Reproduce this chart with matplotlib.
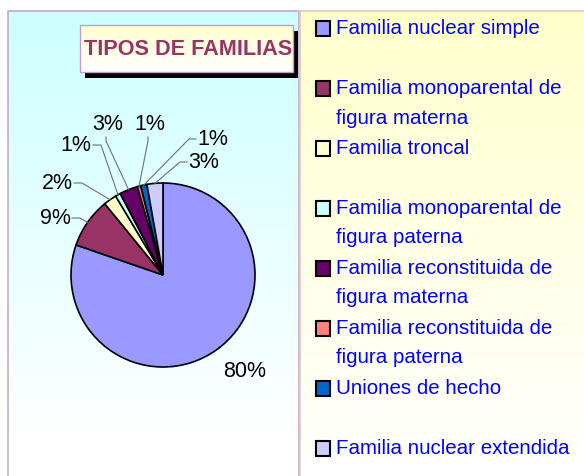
import numpy as np
import matplotlib
matplotlib.use("Agg")
import matplotlib.pyplot as plt
from matplotlib.patches import Rectangle

# ---- data ----
categories = [
    "Familia nuclear simple",
    "Familia monoparental de\nfigura materna",
    "Familia troncal",
    "Familia monoparental de\nfigura paterna",
    "Familia reconstituida de\nfigura materna",
    "Familia reconstituida de\nfigura paterna",
    "Uniones de hecho",
    "Familia nuclear extendida",
]
values = [80.3, 8.8, 2.3, 0.9, 3.2, 0.6, 1.1, 2.8]
colors = ["#9999FF", "#993366", "#FFFFCC", "#CCFFFF", "#660066", "#FF8080", "#0066CC", "#CCCCFF"]
title = "TIPOS DE FAMILIAS"

# ---- layout (pixel coords, y downwards) ----
W, H = 584, 477
CX, CY, R = 163, 276, 92
label_pos = [(245, 372), (55, 219), (57, 184), (76, 146), (108, 124), (150, 124), (213, 140), (204, 163)]
label_side = [None, "right", "right", "right", "below", "below", "left", "left"]

plt.rcParams['font.family'] = ['Liberation Sans', 'DejaVu Sans']
fig = plt.figure(figsize=(W / 100, H / 100), dpi=100)

bg = fig.add_axes([0, 0, 1, 1])
bg.set_xlim(0, W)
bg.set_ylim(H, 0)
bg.axis('off')

def vgrad(ax, x0, x1, y0, y1, c_top, c_bot, y_end=None):
    n = 256
    t = np.linspace(0, 1, n)
    top = np.array(matplotlib.colors.to_rgb(c_top))
    bot = np.array(matplotlib.colors.to_rgb(c_bot))
    if y_end is not None:
        frac = (y_end - y0) / (y1 - y0)
        t = np.clip(t / frac, 0, 1)
    arr = top[None, :] * (1 - t[:, None]) + bot[None, :] * t[:, None]
    arr = arr[:, None, :]
    ax.imshow(arr, extent=(x0, x1, y1, y0), origin='upper', aspect='auto',
              interpolation='bilinear', zorder=0)

# left panel
vgrad(bg, 8, 299, 12, H, "#CCFFFF", "#FFFFFF", y_end=440)
bg.plot([8, 8, 299, 299], [H, 12, 12, H], color="#C8A8C8", lw=1.2, zorder=1)
# right panel
vgrad(bg, 300, W, 12, H, "#FFFFCC", "#FFFFFF")
bg.plot([300, 300, W], [H, 12, 12], color="#E0C8C0", lw=1.2, zorder=1)

# title box with shadow
bg.add_patch(Rectangle((85, 32), 213, 47, facecolor="black", edgecolor="none", zorder=2))
n = 64
t = np.linspace(0, 1, n)
c1 = np.array(matplotlib.colors.to_rgb("#FFFFCC"))
c2 = np.array(matplotlib.colors.to_rgb("#FFFFFF"))
tb = (c1[None, :] * (1 - t[:, None]) + c2[None, :] * t[:, None])[:, None, :]
bg.imshow(tb, extent=(80, 293, 73, 26), origin='upper', aspect='auto',
          interpolation='bilinear', zorder=3)
bg.add_patch(Rectangle((80, 26), 213, 47, facecolor="none", edgecolor="#CC99CC", lw=1, zorder=4))
bg.text(188, 49.5, title, ha='center', va='center', fontsize=15.6, fontweight='bold',
        color="#993366", zorder=5)
bg.set_xlim(0, W)
bg.set_ylim(H, 0)

# pie
pax = fig.add_axes([(CX - R) / W, (H - CY - R) / H, 2 * R / W, 2 * R / H])
wedges, _ = pax.pie(values, colors=colors, startangle=90, counterclock=False,
                    wedgeprops=dict(edgecolor="black", linewidth=1.2))
pax.set_xlim(-1, 1)
pax.set_ylim(-1, 1)
pax.set_aspect('auto')
for w in wedges:
    w.set_clip_on(False)
pax.axis('off')

# labels with leader lines
top = fig.add_axes([0, 0, 1, 1])
top.set_xlim(0, W)
top.set_ylim(H, 0)
top.axis('off')
top.patch.set_alpha(0)

total = sum(values)
ang = 90.0
for i, v in enumerate(values):
    span = 360.0 * v / total
    mid = np.deg2rad(ang - span / 2)
    ang -= span
    tx, ty = label_pos[i]
    top.text(tx, ty, f"{round(v / total * 100)}%", ha='center', va='center', fontsize=15.5, color='black')
    side = label_side[i]
    if side is None:
        continue
    wx = CX + R * np.cos(mid)
    wy = CY - R * np.sin(mid)
    if side == "right":
        sx, sy = tx + 17, ty
        ex, ey = sx + 8, sy
    elif side == "left":
        sx, sy = tx - 17, ty
        ex, ey = sx - 7, sy
    else:
        sx, sy = tx - 2, ty + 14
        ex, ey = sx, sy + 4
    top.plot([sx, ex, wx], [sy, ey, wy], color="#707070", lw=0.8)

# legend
leg_y0, leg_dy, line_dy = 29, 60, 29
for i, (cat, col) in enumerate(zip(categories, colors)):
    y = leg_y0 + i * leg_dy
    top.add_patch(Rectangle((315.5, y - 7), 14.5, 14.5, facecolor=col, edgecolor='black', lw=1.5))
    for k, line in enumerate(cat.split("\n")):
        top.text(336, y + k * line_dy, line, ha='left', va='center', fontsize=14.8, color="#0000FF")

fig.savefig("out.png", dpi=100)
